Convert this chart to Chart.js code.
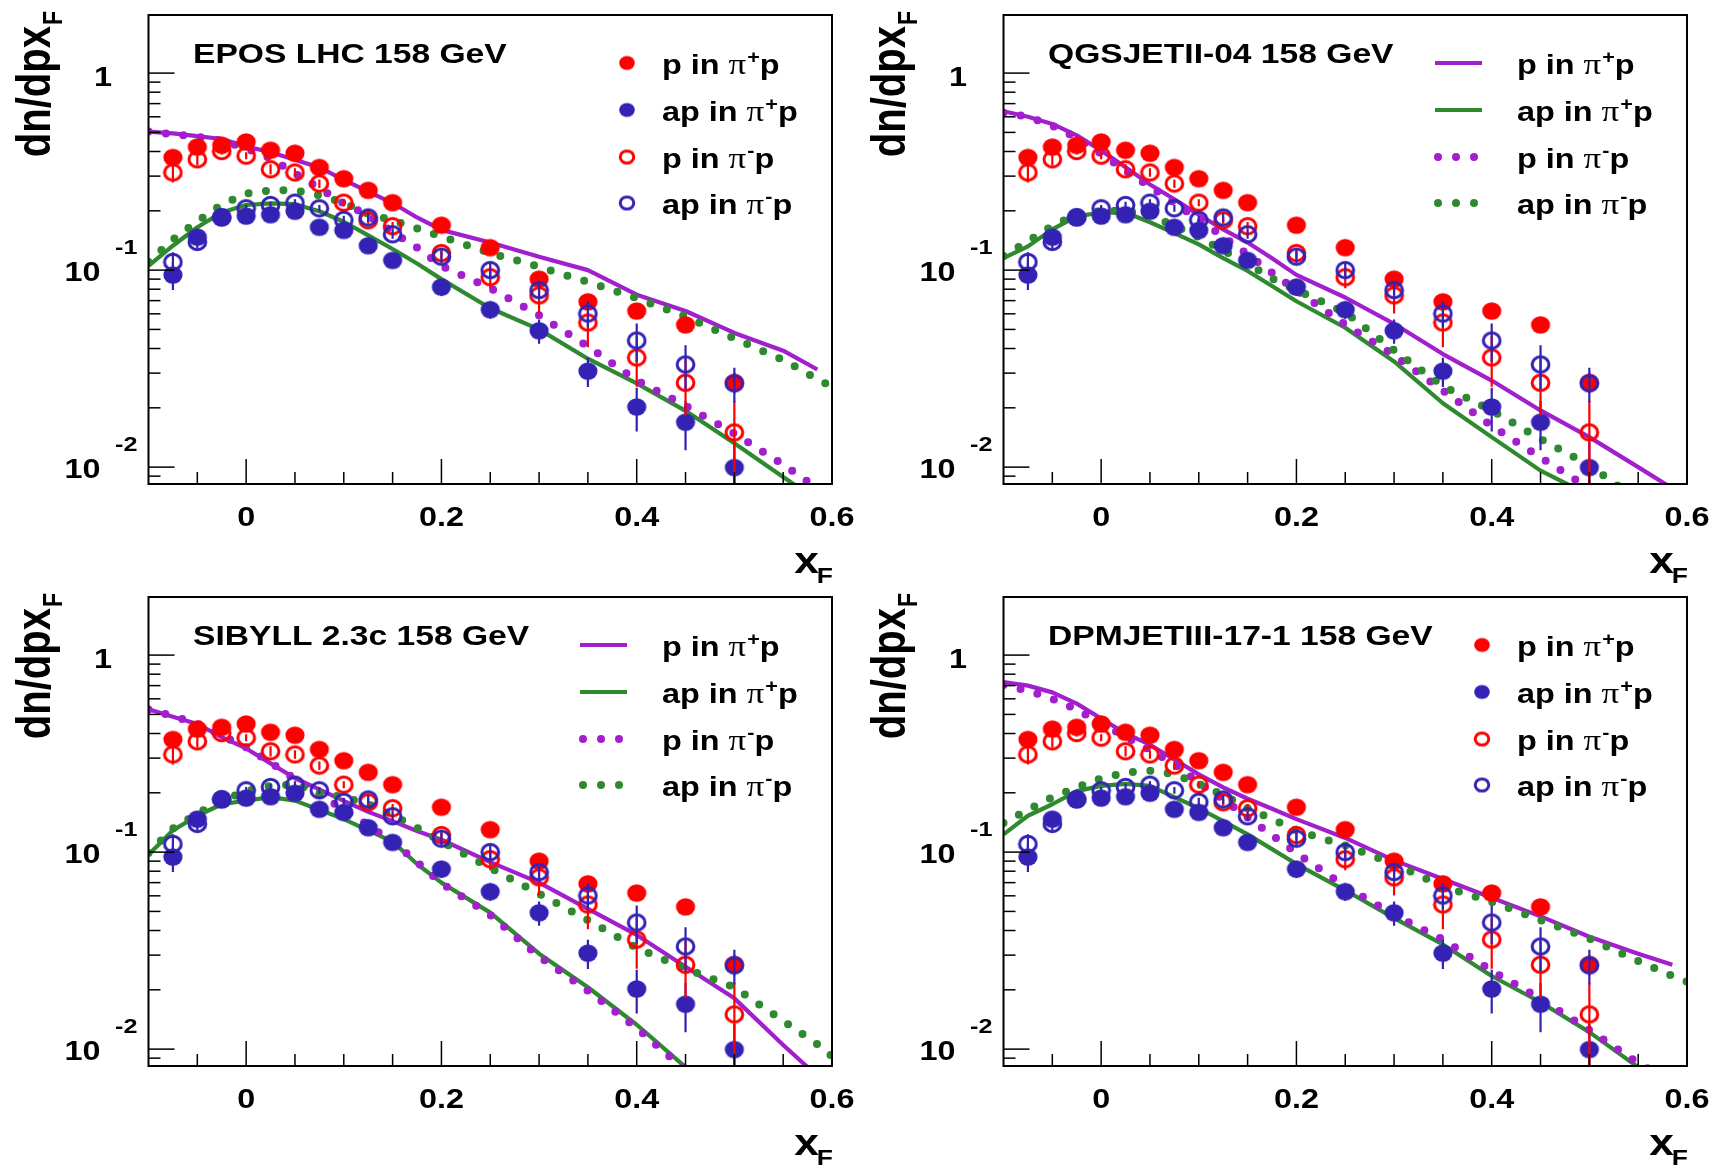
<!DOCTYPE html>
<html>
<head>
<meta charset="utf-8">
<script src="https://cdn.jsdelivr.net/npm/chart.js@4.4.1/dist/chart.umd.min.js"></script>
<style>
  body { margin: 0; background: #fff; }
  #wrap { position: relative; width: 1711px; height: 1165px; overflow: hidden; }
  #wrap canvas { position: absolute; }
</style>
</head>
<body>
<div id="wrap">
  <canvas id="c0" width="856" height="583" style="left:0;top:0"></canvas>
  <canvas id="c1" width="856" height="583" style="left:855px;top:0"></canvas>
  <canvas id="c2" width="856" height="583" style="left:0;top:582px"></canvas>
  <canvas id="c3" width="856" height="583" style="left:855px;top:582px"></canvas>
</div>
<script>
// measured data (same in all four panels)
const xData = [-0.075, -0.05, -0.025, 0, 0.025, 0.05, 0.075, 0.1, 0.125, 0.15, 0.2, 0.25, 0.3, 0.35, 0.4, 0.45, 0.5];
const pPip = [0.373, 0.421, 0.430, 0.447, 0.406, 0.392, 0.332, 0.291, 0.254, 0.220, 0.169, 0.130, 0.090, 0.069, 0.062, 0.0527, 0.0269];
const pPipErr = [0.04, 0.03, 0.03, 0.03, 0.03, 0.03, 0.03, 0.03, 0.03, 0.03, 0.04, 0.04, 0.05, 0.06, 0.07, 0.08, 0.12];
const apPip = [0.0944, 0.147, 0.184, 0.188, 0.191, 0.199, 0.165, 0.159, 0.133, 0.112, 0.082, 0.063, 0.0492, 0.0307, 0.0202, 0.0169, 0.00995];
const apPipErr = [0.16, 0.06, 0.04, 0.04, 0.04, 0.04, 0.05, 0.05, 0.05, 0.06, 0.1, 0.1, 0.14, 0.17, 0.25, 0.28, 0.35];
const pPim = [0.313, 0.365, 0.402, 0.381, 0.325, 0.313, 0.275, 0.220, 0.179, 0.167, 0.122, 0.092, 0.0744, 0.0542, 0.036, 0.0268, 0.015];
const pPimErr = [0.11, 0.07, 0.04, 0.04, 0.06, 0.05, 0.05, 0.04, 0.04, 0.05, 0.06, 0.12, 0.19, 0.25, 0.29, 0.32, 0.45];
const apPim = [0.110, 0.139, 0.186, 0.206, 0.214, 0.220, 0.206, 0.180, 0.185, 0.152, 0.117, 0.100, 0.0792, 0.0602, 0.0439, 0.0332, 0.0266];
const apPimErr = [0.12, 0.07, 0.04, 0.04, 0.04, 0.04, 0.04, 0.05, 0.05, 0.05, 0.07, 0.08, 0.1, 0.15, 0.22, 0.25, 0.2];

// model curves
const xModel = [-0.1, -0.075, -0.05, -0.025, 0, 0.025, 0.05, 0.075, 0.1, 0.125, 0.15, 0.175, 0.2, 0.25, 0.3, 0.35, 0.4, 0.45, 0.5, 0.55, 0.585, 0.6];

const eposPPip = [0.505, 0.494, 0.479, 0.463, 0.424, 0.397, 0.363, 0.332, 0.287, 0.250, 0.219, 0.185, 0.160, 0.138, 0.117, 0.100, 0.075, 0.062, 0.048, 0.039, 0.0313, null];
const eposApPip = [0.105, 0.133, 0.165, 0.196, 0.214, 0.218, 0.216, 0.199, 0.176, 0.150, 0.128, 0.108, 0.090, 0.064, 0.050, 0.0355, 0.0266, 0.0193, 0.0132, 0.0089, 0.0068, 0.006];
const eposPPim = [0.505, 0.49, 0.475, 0.455, 0.415, 0.37, 0.31, 0.26, 0.218, 0.19, 0.156, 0.13, 0.105, 0.081, 0.059, 0.041, 0.0275, 0.0205, 0.0148, 0.0103, 0.0078, 0.007];
const eposApPim = [0.110, 0.143, 0.177, 0.215, 0.245, 0.254, 0.254, 0.240, 0.220, 0.193, 0.179, 0.163, 0.148, 0.122, 0.104, 0.087, 0.072, 0.058, 0.045, 0.035, 0.028, 0.0255];

const qgsPPip = [0.64, 0.60, 0.552, 0.483, 0.405, 0.333, 0.272, 0.229, 0.191, 0.161, 0.138, 0.115, 0.0946, 0.0726, 0.0534, 0.0375, 0.0275, 0.0194, 0.0142, 0.010, 0.0078, 0.007];
const qgsApPip = [0.115, 0.132, 0.161, 0.1875, 0.196, 0.196, 0.175, 0.154, 0.135, 0.115, 0.099, 0.083, 0.0695, 0.051, 0.0344, 0.0211, 0.0142, 0.0096, 0.0072, 0.005, 0.0038, 0.0034];
const qgsPPim = [0.63, 0.60, 0.54, 0.47, 0.39, 0.32, 0.265, 0.22, 0.18, 0.148, 0.12, 0.097, 0.079, 0.053, 0.037, 0.0245, 0.0162, 0.0112, 0.0078, 0.0055, 0.0043, 0.004];
const qgsApPim = [0.118, 0.14, 0.168, 0.191, 0.2, 0.2, 0.19, 0.168, 0.147, 0.126, 0.108, 0.0906, 0.0794, 0.061, 0.0392, 0.0258, 0.0194, 0.0139, 0.0102, 0.0068, 0.0052, 0.0045];

const sibPPip = [0.531, 0.487, 0.447, 0.383, 0.336, 0.282, 0.237, 0.208, 0.182, 0.160, 0.1436, 0.128, 0.1155, 0.0889, 0.070, 0.0515, 0.038, 0.0262, 0.0181, 0.0105, 0.0073, 0.0063];
const sibApPip = [0.097, 0.129, 0.153, 0.175, 0.1825, 0.19, 0.1825, 0.164, 0.147, 0.129, 0.113, 0.087, 0.070, 0.0493, 0.0305, 0.0206, 0.0133, 0.0081, 0.0055, 0.0037, 0.0028, 0.0025];
const sibPPim = [0.53, 0.49, 0.45, 0.39, 0.34, 0.285, 0.235, 0.195, 0.165, 0.137, 0.113, 0.089, 0.0695, 0.048, 0.0295, 0.0198, 0.0128, 0.0078, 0.0052, 0.0035, 0.0027, 0.0024];
const sibApPim = [0.099, 0.1316, 0.157, 0.1825, 0.204, 0.217, 0.22, 0.1995, 0.19, 0.175, 0.1533, 0.133, 0.113, 0.0832, 0.0614, 0.0452, 0.0326, 0.0256, 0.0206, 0.0139, 0.0106, 0.0092];

const dpmPPip = [0.73, 0.70, 0.647, 0.567, 0.477, 0.40, 0.351, 0.295, 0.248, 0.213, 0.1866, 0.166, 0.147, 0.118, 0.0908, 0.073, 0.0587, 0.0472, 0.0372, 0.0305, 0.0268, null];
const dpmApPip = [0.123, 0.153, 0.175, 0.204, 0.217, 0.222, 0.217, 0.19, 0.167, 0.1436, 0.123, 0.1035, 0.087, 0.064, 0.0462, 0.034, 0.0235, 0.0173, 0.0122, 0.0081, 0.0062, 0.0055];
const dpmPPim = [0.705, 0.66, 0.60, 0.53, 0.45, 0.385, 0.33, 0.28, 0.225, 0.185, 0.15, 0.122, 0.099, 0.067, 0.048, 0.036, 0.025, 0.018, 0.0125, 0.0085, 0.0068, 0.006];
const dpmApPim = [0.1405, 0.164, 0.19, 0.213, 0.237, 0.253, 0.259, 0.248, 0.222, 0.195, 0.167, 0.147, 0.129, 0.108, 0.087, 0.067, 0.056, 0.0452, 0.0364, 0.028, 0.0235, 0.022];

const titles = ["EPOS LHC 158 GeV", "QGSJETII-04 158 GeV", "SIBYLL 2.3c 158 GeV", "DPMJETIII-17-1 158 GeV"];
const legendKinds = ["markers", "lines", "lines", "markers"];
const legendLabels = ["p in π^{+}p", "ap in π^{+}p", "p in π^{-}p", "ap in π^{-}p"];
const xTickLabels = ["0", "0.2", "0.4", "0.6"];
const yTickLabels = [["1", ""], ["10", "-1"], ["10", "-2"]];

const curves = [
  [eposPPip, eposApPip, eposPPim, eposApPim],
  [qgsPPip, qgsApPip, qgsPPim, qgsApPim],
  [sibPPip, sibApPip, sibPPim, sibApPim],
  [dpmPPip, dpmApPip, dpmPPim, dpmApPim],
];

const RED = "#ff0000";
const BLUE = "#3322b4";
const PURPLE = "#a11fcc";
const GREEN = "#2f8a2f";
const Y_MIN = 0.00821;
const Y_MAX = 1.972;
const SX = 1.2; // the figure is a bit wider than tall, text too
const SANS = '"Liberation Sans", Arial, Helvetica, sans-serif';
const SERIF = '"Liberation Serif", "DejaVu Serif", serif';

function drawText(ctx, s, x, y, font, align = "left") {
  ctx.save();
  ctx.font = font;
  ctx.textAlign = align;
  ctx.textBaseline = "alphabetic";
  ctx.translate(x, y);
  ctx.scale(SX, 1);
  ctx.fillText(s, 0, 0);
  ctx.restore();
}

// "p in π^{+}p" -> pieces
function parseLabel(label) {
  const parts = [];
  const re = /\^\{([^}]*)\}|_\{([^}]*)\}|π|[^π^_]+/g;
  let m;
  while ((m = re.exec(label))) {
    if (m[1] !== undefined) parts.push({ t: m[1], k: "sup" });
    else if (m[2] !== undefined) parts.push({ t: m[2], k: "sub" });
    else if (m[0] === "π") parts.push({ t: "π", k: "sym" });
    else parts.push({ t: m[0], k: "n" });
  }
  return parts;
}

function drawRich(ctx, label, x, y, size) {
  const fonts = {
    n: `bold ${size}px ${SANS}`,
    sym: `${size * 1.08}px ${SERIF}`,
    sup: `bold ${Math.round(size * 0.66)}px ${SANS}`,
    sub: `bold ${Math.round(size * 0.64)}px ${SANS}`,
  };
  const dy = { n: 0, sym: 0, sup: -size * 0.42, sub: size * 0.32 };
  let cx = x;
  parseLabel(label).forEach((p) => {
    ctx.font = fonts[p.k];
    const w = ctx.measureText(p.t).width * SX;
    drawText(ctx, p.t, cx, y + dy[p.k], fonts[p.k]);
    cx += w + (p.k === "sym" ? 1 : 0);
  });
}

// slightly wide circles, like the stretched original
function markerImage(color, filled, rx, ry) {
  const c = document.createElement("canvas");
  c.width = Math.ceil(rx * 2 + 4);
  c.height = Math.ceil(ry * 2 + 4);
  const g = c.getContext("2d");
  g.beginPath();
  g.ellipse(c.width / 2, c.height / 2, rx, ry, 0, 0, Math.PI * 2);
  if (filled) {
    g.fillStyle = color;
    g.fill();
  } else {
    g.strokeStyle = color;
    g.lineWidth = 3;
    g.stroke();
  }
  return c;
}

const MARK = {
  redFull: markerImage(RED, true, 9.6, 8.8),
  blueFull: markerImage(BLUE, true, 9.6, 8.8),
  redOpen: markerImage(RED, false, 8.4, 7.7),
  blueOpen: markerImage(BLUE, false, 8.4, 7.7),
  redFullL: markerImage(RED, true, 7.8, 7.1),
  blueFullL: markerImage(BLUE, true, 7.8, 7.1),
  redOpenL: markerImage(RED, false, 6.8, 6.1),
  blueOpenL: markerImage(BLUE, false, 6.8, 6.1),
};

const rootStyle = {
  id: "rootStyle",
  beforeDatasetDraw(chart, args) {
    const ds = chart.data.datasets[args.index];
    if (!ds.errors) return;
    const { ctx, chartArea: a } = chart;
    const xs = chart.scales.x, ys = chart.scales.y;
    ctx.save();
    ctx.beginPath();
    ctx.rect(a.left, a.top, a.right - a.left, a.bottom - a.top);
    ctx.clip();
    ctx.strokeStyle = ds.barColor;
    ctx.lineWidth = 2.2;
    ds.data.forEach((p, i) => {
      const e = ds.errors[i];
      const px = xs.getPixelForValue(p.x);
      ctx.beginPath();
      ctx.moveTo(px, ys.getPixelForValue(p.y * (1 + e)));
      ctx.lineTo(px, ys.getPixelForValue(Math.max(p.y * (1 - e), 1e-6)));
      ctx.stroke();
    });
    ctx.restore();
  },
  afterDraw(chart, args, opts) {
    const { ctx, chartArea: a } = chart;
    const xs = chart.scales.x, ys = chart.scales.y;
    ctx.save();
    ctx.strokeStyle = "#000";
    ctx.fillStyle = "#000";

    // ticks inside the frame
    ctx.lineWidth = 1.5;
    for (let k = -1; k <= 11; k++) {
      const v = k * 0.05;
      const px = xs.getPixelForValue(v);
      const len = k % 4 === 0 ? 25 : 12;
      ctx.beginPath();
      ctx.moveTo(px, a.bottom);
      ctx.lineTo(px, a.bottom - len);
      ctx.stroke();
    }
    for (let d = -3; d <= 0; d++) {
      for (let m = 1; m <= 9; m++) {
        const v = m * Math.pow(10, d);
        if (v < Y_MIN || v > Y_MAX) continue;
        const py = ys.getPixelForValue(v);
        ctx.beginPath();
        ctx.moveTo(a.left, py);
        ctx.lineTo(a.left + (m === 1 ? 26 : 12), py);
        ctx.stroke();
      }
    }

    // frame
    ctx.lineWidth = 2;
    ctx.strokeRect(a.left, a.top, a.right - a.left, a.bottom - a.top);

    // tick labels
    const tickFont = `bold 27px ${SANS}`;
    xTickLabels.forEach((s) => {
      drawText(ctx, s, xs.getPixelForValue(parseFloat(s)), a.bottom + 42, tickFont, "center");
    });
    yTickLabels.forEach(([base, exp], i) => {
      const py = ys.getPixelForValue(Math.pow(10, -i));
      if (!exp) {
        drawText(ctx, base, 112, py + 13, tickFont, "right");
      } else {
        drawText(ctx, base, 100.5, py + 11, tickFont, "right");
        drawText(ctx, exp, 115, py - 16, `bold 21px ${SANS}`, "left");
      }
    });

    // axis titles
    drawText(ctx, "x", a.right - 13, a.bottom + 89, `bold 37px ${SANS}`, "right");
    drawText(ctx, "F", a.right + 1, a.bottom + 99, `bold 22px ${SANS}`, "right");
    ctx.save();
    ctx.translate(50, a.top - 4);
    ctx.scale(SX, 1);
    ctx.rotate(-Math.PI / 2);
    ctx.font = `bold 23px ${SANS}`;
    const wF = ctx.measureText("F").width;
    ctx.textAlign = "right";
    ctx.fillText("F", 0, 10);
    ctx.font = `bold 40px ${SANS}`;
    ctx.fillText("dn/dpx", -wF - 1, 0);
    ctx.restore();

    // panel title
    drawText(ctx, opts.title, 193, 63, `bold 28px ${SANS}`);

    // legend
    const rows = [63, 110, 157, 203];
    const styles = [
      { c: PURPLE, dash: false, img: MARK.redFullL },
      { c: GREEN, dash: false, img: MARK.blueFullL },
      { c: PURPLE, dash: true, img: MARK.redOpenL },
      { c: GREEN, dash: true, img: MARK.blueOpenL },
    ];
    legendLabels.forEach((lab, i) => {
      const y = rows[i], st = styles[i];
      if (opts.kind === "markers") {
        ctx.drawImage(st.img, 627 - st.img.width / 2, y - st.img.height / 2);
      } else if (!st.dash) {
        ctx.strokeStyle = st.c;
        ctx.lineWidth = 4;
        ctx.beginPath();
        ctx.moveTo(580, y);
        ctx.lineTo(627, y);
        ctx.stroke();
      } else {
        ctx.fillStyle = st.c;
        [583, 601, 619].forEach((dx) => {
          ctx.beginPath();
          ctx.arc(dx, y, 4, 0, Math.PI * 2);
          ctx.fill();
        });
      }
      ctx.fillStyle = "#000";
      drawRich(ctx, lab, 662, y + 11, 27);
    });
    ctx.restore();
  },
};

function pts(xs, ys) {
  return xs.map((x, i) => ({ x, y: ys[i] }));
}

function dataSet(values, errs, color, img) {
  return {
    data: pts(xData, values),
    errors: errs,
    barColor: color,
    showLine: false,
    pointStyle: img,
    pointRadius: 10,
    pointBackgroundColor: color,
    pointBorderColor: color,
  };
}

function curveSet(values, color, dotted) {
  return {
    data: pts(xModel, values),
    showLine: true,
    pointRadius: 0,
    tension: 0,
    spanGaps: false,
    borderColor: color,
    borderWidth: dotted ? 8 : 4.2,
    borderDash: dotted ? [0, 17.5] : [],
    borderCapStyle: dotted ? "round" : "butt",
    borderJoinStyle: "round",
  };
}

curves.forEach((c, n) => {
  const [mPPip, mApPip, mPPim, mApPim] = c;
  new Chart(document.getElementById("c" + n), {
    type: "scatter",
    data: {
      datasets: [
        dataSet(apPim, apPimErr, BLUE, MARK.blueOpen),
        dataSet(pPim, pPimErr, RED, MARK.redOpen),
        dataSet(apPip, apPipErr, BLUE, MARK.blueFull),
        dataSet(pPip, pPipErr, RED, MARK.redFull),
        curveSet(mApPim, GREEN, true),
        curveSet(mPPim, PURPLE, true),
        curveSet(mApPip, GREEN, false),
        curveSet(mPPip, PURPLE, false),
      ],
    },
    options: {
      responsive: false,
      animation: false,
      devicePixelRatio: 1,
      events: [],
      layout: { padding: { left: 148.5, right: 24, top: 15, bottom: 99 } },
      scales: {
        x: { type: "linear", min: -0.1, max: 0.6, display: false },
        y: { type: "logarithmic", min: Y_MIN, max: Y_MAX, display: false },
      },
      plugins: {
        legend: { display: false },
        tooltip: { enabled: false },
        rootStyle: { title: titles[n], kind: legendKinds[n] },
      },
    },
    plugins: [rootStyle],
  });
});
</script>
</body>
</html>
